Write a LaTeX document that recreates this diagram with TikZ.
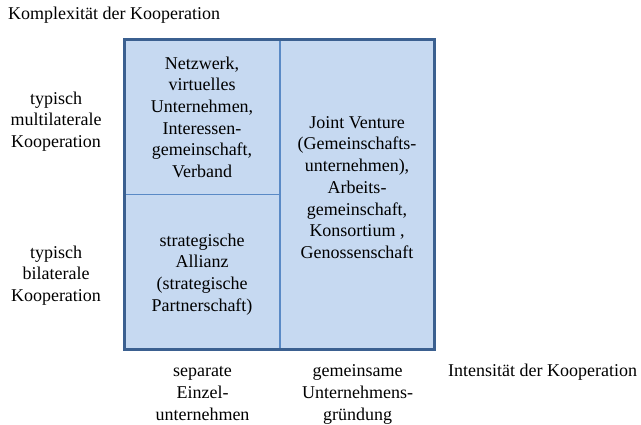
\documentclass[tikz,border=0pt]{standalone}
\usepackage{fontspec}
\setmainfont{Liberation Serif}
\usetikzlibrary{positioning}
\definecolor{cellfill}{HTML}{C6D9F1}
\definecolor{frameblue}{HTML}{3B6090}
\definecolor{lineblue}{HTML}{5A8AC6}
\newcommand{\cellstack}[1]{\begin{tabular}{@{}c@{}}#1\end{tabular}}

\begin{document}
\begin{tikzpicture}[x=1pt,y=-1pt]
  \tikzstyle{every node}=[inner sep=0pt, font=\rmfamily\fontsize{18}{21.7}\selectfont]
  \useasboundingbox (0,0) rectangle (641,424);

  \coordinate (nw) at (124.5,39.7);
  \coordinate (se) at (434.5,349);
  \coordinate (midtop) at (280,39.7);
  \coordinate (midbot) at (280,349);
  \coordinate (leftmid) at (124.5,194.3);
  \coordinate (centre) at (280,194.3);

  \fill [cellfill] (nw) rectangle (se);
  \draw [lineblue, line width=1.5pt] (midtop) -- (midbot);
  \draw [lineblue, line width=1.5pt] (leftmid) -- (centre);
  \draw [frameblue, line width=3pt] (nw) rectangle (se);

  \node (netz) at (202,119) {\cellstack{Netzwerk,\\virtuelles\\Unternehmen,\\Interessen-\\gemeinschaft,\\Verband}};
  \node (allianz) at (202,274.5) {\cellstack{strategische\\Allianz\\(strategische\\Partnerschaft)}};
  \node (joint) at (357,189) {\cellstack{Joint Venture\\(Gemeinschafts-\\unternehmen),\\Arbeits-\\gemeinschaft,\\Konsortium ,\\Genossenschaft}};

  \node (multi) at (56,121.5) {\cellstack{typisch\\multilaterale\\Kooperation}};
  \node (bi) at (56,275.5) {\cellstack{typisch\\bilaterale\\Kooperation}};

  \node (separat) at (202.5,394) {\cellstack{separate\\Einzel-\\unternehmen}};
  \node (gemeinsam) at (357.7,394) {\cellstack{gemeinsame\\Unternehmens-\\gründung}};

  \node (komplex) [anchor=west] at (8,15) {Komplexität der Kooperation};
  \node (intens) [anchor=west] at (448,372.5) {Intensität der Kooperation};

\end{tikzpicture}
\end{document}
